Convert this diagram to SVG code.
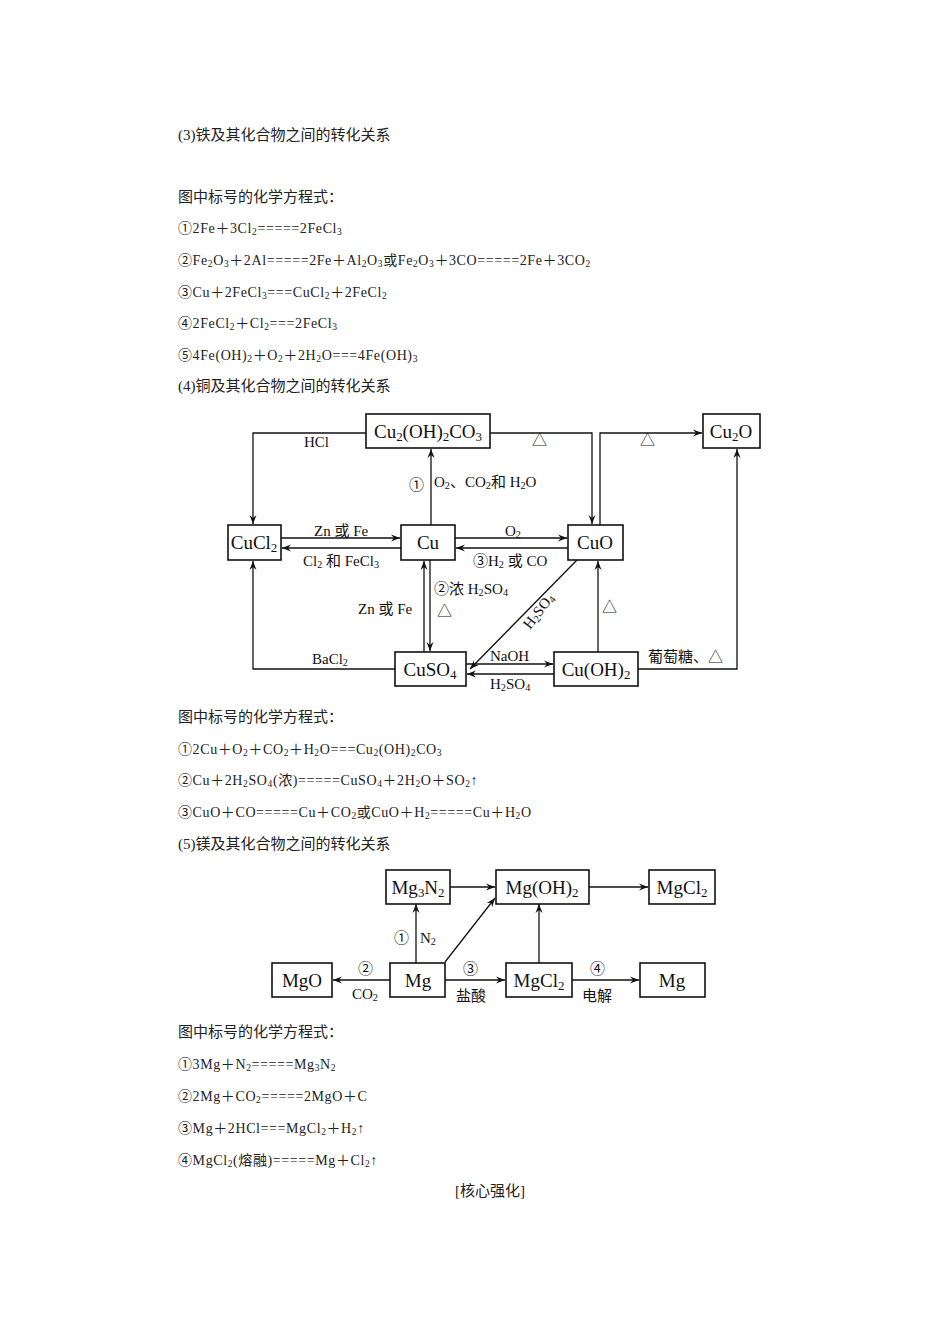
<svg xmlns="http://www.w3.org/2000/svg" width="950" height="1344" viewBox="0 0 950 1344">
<style>
.t{font-family:"Liberation Serif","Noto Sans CJK SC",serif;font-size:15px;fill:#222}
.e{font-family:"Liberation Serif","Noto Sans CJK SC",serif;font-size:14px;letter-spacing:0.6px;fill:#222}
.n{font-family:"Liberation Serif","Noto Sans CJK SC",serif;font-size:19px;fill:#111;text-anchor:middle}
.l{font-family:"Liberation Serif","Noto Sans CJK SC",serif;font-size:15px;fill:#111}
.s{font-size:68%;baseline-shift:-0.2em}
rect{fill:#fff;stroke:#111;stroke-width:1.6}
.c path,.c line{fill:none;stroke:#111;stroke-width:1.3}
</style>
<defs><marker id="a" markerWidth="10" markerHeight="8" refX="9" refY="4" orient="auto" markerUnits="userSpaceOnUse"><path d="M0,0.5 L9,4 L0,7.5 L3,4 Z" fill="#111"/></marker></defs>
<rect width="950" height="1344" style="fill:#fff;stroke:none"/>
<g id="text">
<text class="t" x="178" y="140">(3)铁及其化合物之间的转化关系</text>
<text class="t" x="178" y="202">图中标号的化学方程式：</text>
<text class="e" x="178" y="233">①2Fe＋3Cl<tspan class="s">2</tspan>=====2FeCl<tspan class="s">3</tspan></text>
<text class="e" x="178" y="265">②Fe<tspan class="s">2</tspan>O<tspan class="s">3</tspan>＋2Al=====2Fe＋Al<tspan class="s">2</tspan>O<tspan class="s">3</tspan>或Fe<tspan class="s">2</tspan>O<tspan class="s">3</tspan>＋3CO=====2Fe＋3CO<tspan class="s">2</tspan></text>
<text class="e" x="178" y="297">③Cu＋2FeCl<tspan class="s">3</tspan>===CuCl<tspan class="s">2</tspan>＋2FeCl<tspan class="s">2</tspan></text>
<text class="e" x="178" y="328">④2FeCl<tspan class="s">2</tspan>＋Cl<tspan class="s">2</tspan>===2FeCl<tspan class="s">3</tspan></text>
<text class="e" x="178" y="360">⑤4Fe(OH)<tspan class="s">2</tspan>＋O<tspan class="s">2</tspan>＋2H<tspan class="s">2</tspan>O===4Fe(OH)<tspan class="s">3</tspan></text>
<text class="t" x="178" y="391">(4)铜及其化合物之间的转化关系</text>
<text class="t" x="178" y="722">图中标号的化学方程式：</text>
<text class="e" x="178" y="754">①2Cu＋O<tspan class="s">2</tspan>＋CO<tspan class="s">2</tspan>＋H<tspan class="s">2</tspan>O===Cu<tspan class="s">2</tspan>(OH)<tspan class="s">2</tspan>CO<tspan class="s">3</tspan></text>
<text class="e" x="178" y="785">②Cu＋2H<tspan class="s">2</tspan>SO<tspan class="s">4</tspan>(浓)=====CuSO<tspan class="s">4</tspan>＋2H<tspan class="s">2</tspan>O＋SO<tspan class="s">2</tspan>↑</text>
<text class="e" x="178" y="817">③CuO＋CO=====Cu＋CO<tspan class="s">2</tspan>或CuO＋H<tspan class="s">2</tspan>=====Cu＋H<tspan class="s">2</tspan>O</text>
<text class="t" x="178" y="849">(5)镁及其化合物之间的转化关系</text>
<text class="t" x="178" y="1037">图中标号的化学方程式：</text>
<text class="e" x="178" y="1069">①3Mg＋N<tspan class="s">2</tspan>=====Mg<tspan class="s">3</tspan>N<tspan class="s">2</tspan></text>
<text class="e" x="178" y="1101">②2Mg＋CO<tspan class="s">2</tspan>=====2MgO＋C</text>
<text class="e" x="178" y="1133">③Mg＋2HCl===MgCl<tspan class="s">2</tspan>＋H<tspan class="s">2</tspan>↑</text>
<text class="e" x="178" y="1165">④MgCl<tspan class="s">2</tspan>(熔融)=====Mg＋Cl<tspan class="s">2</tspan>↑</text>
<text class="t" x="490" y="1196" text-anchor="middle">[核心强化]</text>
</g>
<g class="c" id="connectors">
<path d="M366,433 H253 V524" marker-end="url(#a)"/>
<path d="M490,433 H592 V524" marker-end="url(#a)"/>
<path d="M600,525 V433 H702" marker-end="url(#a)"/>
<path d="M431,525 V449" marker-end="url(#a)"/>
<path d="M281,538 H400" marker-end="url(#a)"/>
<path d="M401,548 H282" marker-end="url(#a)"/>
<path d="M455,538 H567" marker-end="url(#a)"/>
<path d="M568,548 H456" marker-end="url(#a)"/>
<path d="M424,652 V561" marker-end="url(#a)"/>
<path d="M430,560 V651" marker-end="url(#a)"/>
<path d="M577,560 L470,669" marker-end="url(#a)"/>
<path d="M395,669 H253 V561" marker-end="url(#a)"/>
<path d="M466,664 H553" marker-end="url(#a)"/>
<path d="M554,674 H467" marker-end="url(#a)"/>
<path d="M598,652 V561" marker-end="url(#a)"/>
<path d="M638,669 H737 V449" marker-end="url(#a)"/>
<path d="M450,887 H495" marker-end="url(#a)"/>
<path d="M589,887 H648" marker-end="url(#a)"/>
<path d="M416,963 V904" marker-end="url(#a)"/>
<path d="M445,962 L495,898" marker-end="url(#a)"/>
<path d="M539,963 V904" marker-end="url(#a)"/>
<path d="M390,980 H333" marker-end="url(#a)"/>
<path d="M445,980 H505" marker-end="url(#a)"/>
<path d="M572,980 H639" marker-end="url(#a)"/>
</g>
<g id="labels">
<text class="l" x="304" y="447">HCl</text>
<text class="l" x="532" y="445">△</text>
<text class="l" x="640" y="445">△</text>
<text class="l" x="409" y="490">①</text>
<text class="l" x="434" y="487">O<tspan class="s">2</tspan>、CO<tspan class="s">2</tspan>和 H<tspan class="s">2</tspan>O</text>
<text class="l" x="314" y="536">Zn 或 Fe</text>
<text class="l" x="303" y="566">Cl<tspan class="s">2</tspan> 和 FeCl<tspan class="s">3</tspan></text>
<text class="l" x="505" y="536">O<tspan class="s">2</tspan></text>
<text class="l" x="473" y="566">③H<tspan class="s">2</tspan> 或 CO</text>
<text class="l" x="434" y="594">②浓 H<tspan class="s">2</tspan>SO<tspan class="s">4</tspan></text>
<text class="l" x="437" y="616">△</text>
<text class="l" x="358" y="614">Zn 或 Fe</text>
<text class="l" x="0" y="0" transform="translate(530,630) rotate(-52)">H<tspan class="s">2</tspan>SO<tspan class="s">4</tspan></text>
<text class="l" x="312" y="664">BaCl<tspan class="s">2</tspan></text>
<text class="l" x="490" y="661">NaOH</text>
<text class="l" x="490" y="689">H<tspan class="s">2</tspan>SO<tspan class="s">4</tspan></text>
<text class="l" x="602" y="612">△</text>
<text class="l" x="648" y="662">葡萄糖、△</text>
<text class="l" x="394" y="943">①</text>
<text class="l" x="420" y="943">N<tspan class="s">2</tspan></text>
<text class="l" x="358" y="974">②</text>
<text class="l" x="352" y="999">CO<tspan class="s">2</tspan></text>
<text class="l" x="463" y="974">③</text>
<text class="l" x="456" y="1001">盐酸</text>
<text class="l" x="590" y="974">④</text>
<text class="l" x="582" y="1001">电解</text>
</g>
<g id="n-cu2oh2co3"><rect x="366" y="414" width="124" height="34"/><text class="n" x="428" y="438">Cu<tspan class="s">2</tspan>(OH)<tspan class="s">2</tspan>CO<tspan class="s">3</tspan></text></g>
<g id="n-cu2o"><rect x="703" y="414" width="57" height="34"/><text class="n" x="731" y="438">Cu<tspan class="s">2</tspan>O</text></g>
<g id="n-cucl2"><rect x="228" y="525" width="53" height="35"/><text class="n" x="254" y="549">CuCl<tspan class="s">2</tspan></text></g>
<g id="n-cu"><rect x="401" y="525" width="54" height="35"/><text class="n" x="428" y="549">Cu</text></g>
<g id="n-cuo"><rect x="568" y="525" width="55" height="35"/><text class="n" x="595" y="549">CuO</text></g>
<g id="n-cuso4"><rect x="395" y="652" width="71" height="34"/><text class="n" x="430" y="676">CuSO<tspan class="s">4</tspan></text></g>
<g id="n-cuoh2"><rect x="554" y="652" width="84" height="34"/><text class="n" x="596" y="676">Cu(OH)<tspan class="s">2</tspan></text></g>
<g id="n-mg3n2"><rect x="386" y="870" width="64" height="34"/><text class="n" x="418" y="894">Mg<tspan class="s">3</tspan>N<tspan class="s">2</tspan></text></g>
<g id="n-mgoh2"><rect x="496" y="870" width="93" height="34"/><text class="n" x="542" y="894">Mg(OH)<tspan class="s">2</tspan></text></g>
<g id="n-mgcl2a"><rect x="649" y="870" width="66" height="34"/><text class="n" x="682" y="894">MgCl<tspan class="s">2</tspan></text></g>
<g id="n-mgo"><rect x="272" y="963" width="60" height="34"/><text class="n" x="302" y="987">MgO</text></g>
<g id="n-mg"><rect x="390" y="963" width="55" height="34"/><text class="n" x="418" y="987">Mg</text></g>
<g id="n-mgcl2b"><rect x="506" y="963" width="66" height="34"/><text class="n" x="539" y="987">MgCl<tspan class="s">2</tspan></text></g>
<g id="n-mg2"><rect x="640" y="963" width="65" height="34"/><text class="n" x="672" y="987">Mg</text></g>
</svg>
